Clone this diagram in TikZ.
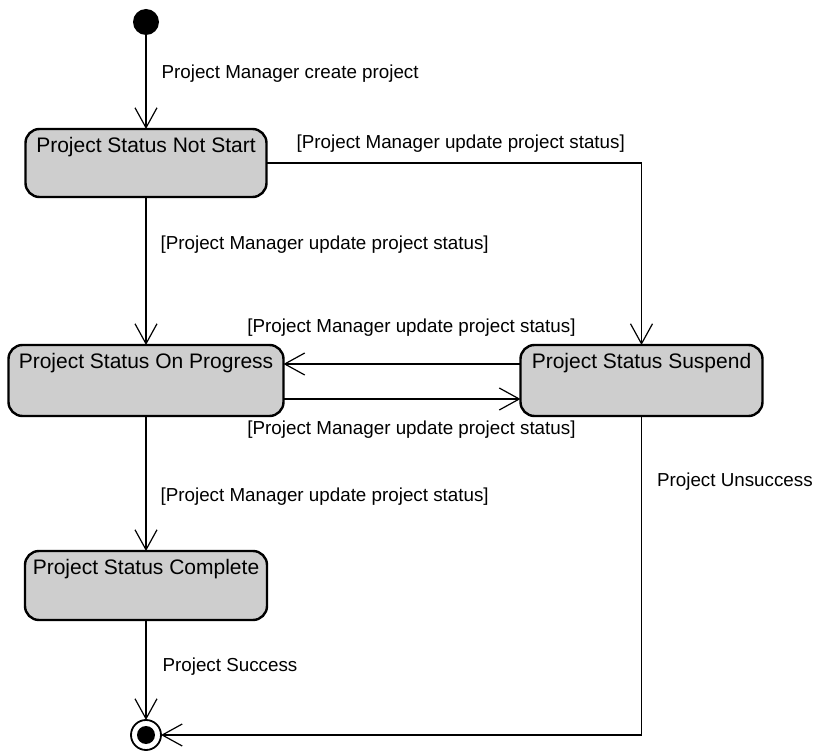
\documentclass[tikz,border=0pt]{standalone}
\usepackage{fontspec}
\setmainfont{Liberation Sans}
\usetikzlibrary{arrows.meta, positioning}
\definecolor{statefill}{RGB}{206,206,206}
\tikzstyle{state} = [rectangle, 
			draw, 
			line width = 2.4pt, 
			rounded corners = 14pt, 
			fill = statefill, 
			inner sep = 0pt, 
			outer sep = 0pt]
\tikzstyle{title} = [anchor = north, 
			inner sep = 0pt, 
			yshift = -8pt, 
			font = \fontsize{21}{24}\selectfont]
\tikzstyle{guard} = [inner sep = 0pt, 
			font = \fontsize{18.8}{22}\selectfont]
\tikzstyle{trans} = [-{Straight Barb[length=20pt, width=22pt]}, 
			line width = 1.2pt]

\begin{document}
\begin{tikzpicture}[x = 1pt, y = 1pt, node distance = 1em]
	\useasboundingbox (0,0) rectangle (815,-751);
	\node [circle, fill, minimum size = 26pt, inner sep = 0pt, outer sep = 0pt] (init) at (146,-22) {};
	\node [state, minimum width = 241pt, minimum height = 68pt, below = 94pt of init,
		label = {[title]north:Project Status Not Start}] (notstart) {};
	\node [state, minimum width = 275pt, minimum height = 71pt, below = 148pt of notstart,
		label = {[title]north:Project Status On Progress}] (progress) {};
	\node [state, minimum width = 242pt, minimum height = 71pt, right = 237pt of progress,
		label = {[title]north:Project Status Suspend}] (suspend) {};
	\node [state, minimum width = 242pt, minimum height = 69pt, below = 135pt of progress,
		label = {[title]north:Project Status Complete}] (complete) {};
	\node [circle, draw, line width = 1.8pt, minimum size = 30pt, inner sep = 0pt, outer sep = 0pt, below = 100pt of complete,
		path picture = {\fill (path picture bounding box.center) circle (9pt);}] (final) {};
	\draw [trans] (init) -- node [guard, anchor = west, xshift = 15pt, pos = 0.41] {Project Manager create project} (notstart);
	\draw [trans] (notstart) -- node [guard, anchor = west, xshift = 14pt, pos = 0.32] {[Project Manager update project status]} (progress);
	\draw [trans] (notstart) -| node [guard, pos = 0.259, yshift = 19pt] {[Project Manager update project status]} (suspend);
	\draw [trans] ([yshift = 16.5pt]suspend.west) -- node [guard, pos = 0.46, yshift = 36pt] {[Project Manager update project status]} ([yshift = 16.5pt]progress.east);
	\draw [trans] ([yshift = -18.5pt]progress.east) -- node [guard, pos = 0.54, yshift = -31pt] {[Project Manager update project status]} ([yshift = -18.5pt]suspend.west);
	\draw [trans] (progress) -- node [guard, anchor = west, xshift = 14pt, pos = 0.6] {[Project Manager update project status]} (complete);
	\draw [trans] (complete) -- node [guard, anchor = west, xshift = 16pt, pos = 0.47] {Project Success} (final);
	\draw [trans] (suspend) |- node [guard, anchor = west, xshift = 15pt, pos = 0.103] {Project Unsuccess} (final);
\end{tikzpicture}
\end{document}
